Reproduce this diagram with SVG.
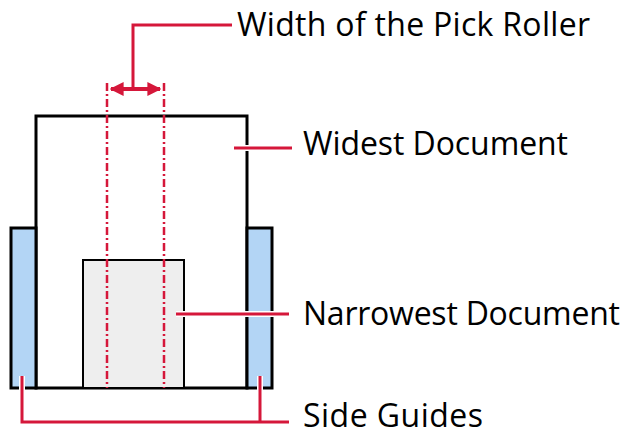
<svg xmlns="http://www.w3.org/2000/svg" width="625" height="432" viewBox="0 0 625 432">
<defs>
<marker id="ah" viewBox="0 0 10 10" refX="9" refY="5" markerWidth="3.5" markerHeight="3.5" orient="auto-start-reverse" markerUnits="strokeWidth">
<path d="M0,0 L10,5 L0,10 z" fill="#d5173a"/>
</marker>
<style>
.txt{font-family:"Open Sans","Noto Sans",sans-serif;font-size:32px;fill:#000}
.box{stroke:#000;stroke-width:3}
.lead{fill:none;stroke:#d5173a;stroke-width:3}
.halo{fill:none;stroke:#fff;stroke-width:6}
.dash{fill:none;stroke:#d5173a;stroke-width:2.5;stroke-dasharray:8 3 2 3}
</style>
</defs>
<g id="widest-document"><rect class="box" x="36" y="116" width="211" height="272" fill="#fff"/></g>
<g id="left-side-guide"><rect class="box" x="11" y="228" width="25" height="160" fill="#b3d5f5"/></g>
<g id="right-side-guide"><rect class="box" x="247" y="228" width="25" height="160" fill="#b3d5f5"/></g>
<g id="narrowest-document"><rect x="83" y="260" width="101" height="128" fill="#eeeeee" stroke="#000" stroke-width="2"/></g>
<g id="pick-roller">
<line class="dash" x1="107" y1="83" x2="107" y2="388"/>
<line class="dash" x1="164" y1="83" x2="164" y2="388"/>
</g>
<g id="connectors">
<line x1="111" y1="89" x2="160" y2="89" stroke="#d5173a" stroke-width="4" marker-start="url(#ah)" marker-end="url(#ah)"/>
<polyline class="lead" points="133,89 133,25 232,25"/>
<line class="halo" x1="234" y1="148" x2="292" y2="148"/>
<line class="lead" x1="234" y1="148" x2="292" y2="148"/>
<line class="halo" x1="176" y1="314" x2="289" y2="314"/>
<line class="lead" x1="176" y1="314" x2="289" y2="314"/>
<polyline class="halo" points="22,376 22,422 289,422"/>
<line class="halo" x1="260" y1="376" x2="260" y2="422"/>
<polyline class="lead" points="22,376 22,422 289,422"/>
<line class="lead" x1="260" y1="376" x2="260" y2="422"/>
</g>
<g id="labels">
<text class="txt" x="237" y="36" textLength="353">Width of the Pick Roller</text>
<text class="txt" x="303" y="155" textLength="265">Widest Document</text>
<text class="txt" x="303" y="325" textLength="317">Narrowest Document</text>
<text class="txt" x="303" y="427" textLength="180">Side Guides</text>
</g>
</svg>
